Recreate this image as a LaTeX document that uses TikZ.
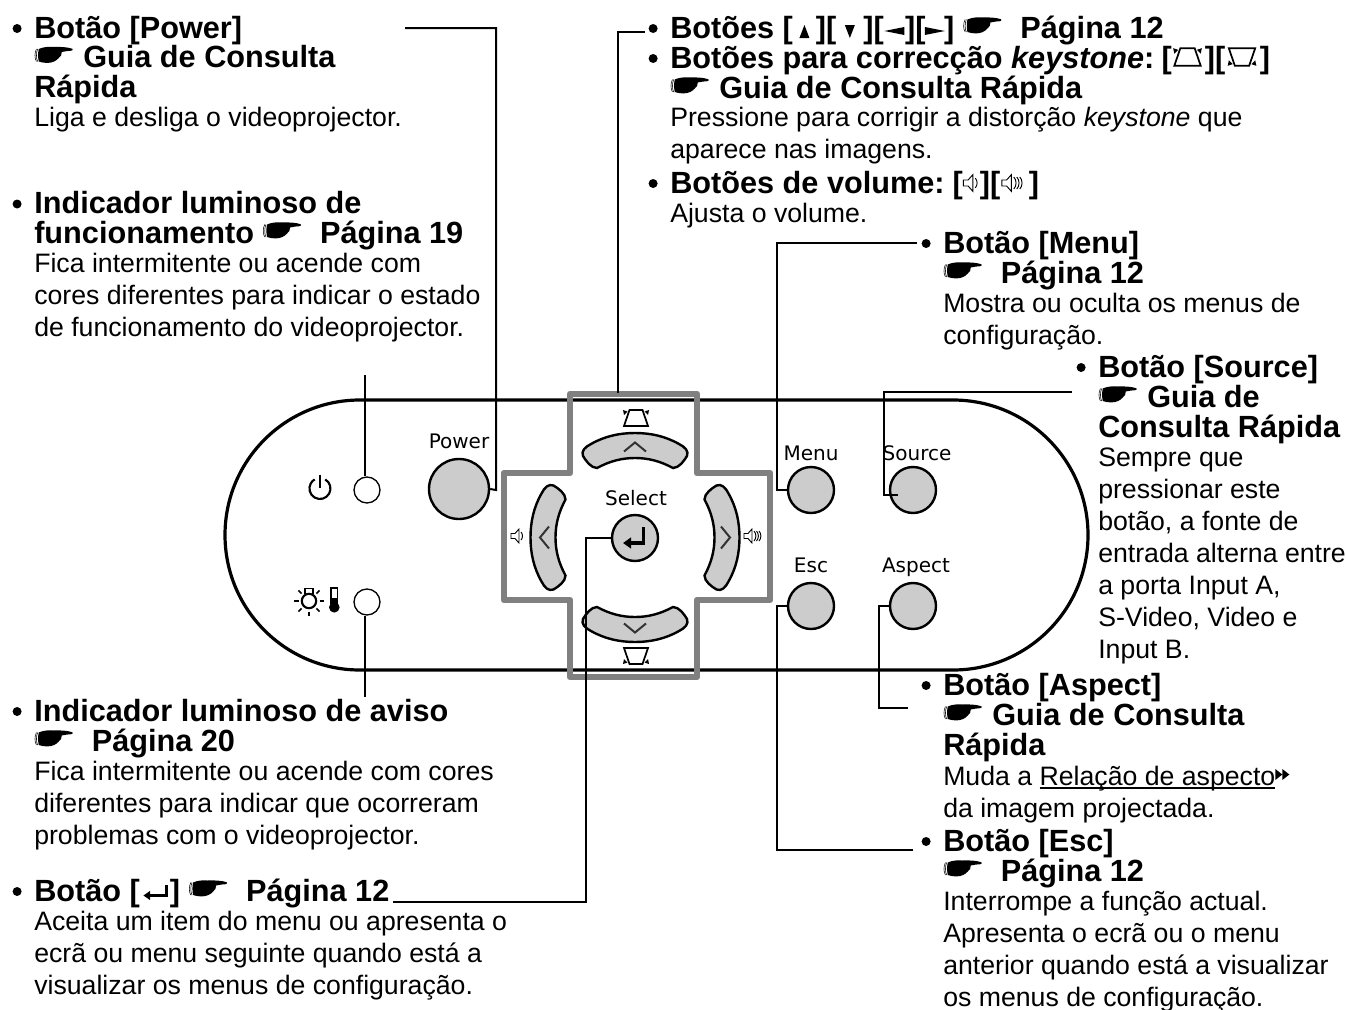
\documentclass[tikz,border=0pt]{standalone}
\usepackage{fontspec}
\setmainfont{Liberation Sans}
\newfontfamily\symfont{DejaVu Sans}
\usetikzlibrary{arrows.meta}
\definecolor{keycol}{gray}{0.8}
\definecolor{crosscol}{gray}{0.5}
\newcommand{\inl}[1]{\tikz[baseline=0pt, x=0.75pt, y=0.75pt]{#1}}
\newcommand{\bul}{\makebox[0pt][r]{\inl{\fill (4.5,9.5) circle (4.5);}\hspace{9.5pt}}}
% Pointing hand, 40.5 px wide
\newcommand{\hand}{\inl{
  \path[use as bounding box] (0,0) rectangle (40.5,1);
  \draw[line width=0.4pt] (2.2,6) .. controls (0.2,9) and (0.2,15) .. (2.2,18.5);
  \draw[line width=0.4pt] (3.4,6) .. controls (1.8,9) and (1.8,15) .. (3.4,18.5);
  \fill (4.5,6) .. controls (3.6,10) and (3.6,15) .. (4.5,18.5) .. controls (9,20.5) and (14,21) .. (19,20.5)
    .. controls (26,20.8) and (33,20.5) .. (38,18.8) .. controls (39,18) and (38.5,17) .. (37,16.8)
    .. controls (33,16.6) and (30,16) .. (27.5,15.5) .. controls (27.8,13) and (26.5,11) .. (24.5,9.5)
    .. controls (22,6.5) and (18,4.6) .. (13,4.6) .. controls (10,4.6) and (7,5) .. (4.5,6) -- cycle;
}}
\newcommand{\triup}{\makebox[17.25pt]{\inl{\fill (0,0) -- (10,0) -- (5,13) -- cycle;}}}
\newcommand{\tridn}{\makebox[20.25pt]{\inl{\fill (0,13) -- (10,13) -- (5,0) -- cycle;}}}
\newcommand{\trilf}{\makebox[16pt]{\inl{\fill (20,3) -- (20,11) -- (0,7) -- cycle;}}}
\newcommand{\trirt}{\makebox[14pt]{\inl{\fill (0,3) -- (0,11) -- (20,7) -- cycle;}}}
\newcommand{\entglyph}{\makebox[22.5pt]{\inl{\draw[line width=1.7pt, -{Triangle[length=5pt, width=6.5pt]}] (25,16) -- (25,5.5) -- (2,5.5);}}}
\newcommand{\glossmark}{\inl{\fill (0,5) -- (0,16) -- (7,10.5) -- cycle; \fill (7,5) -- (7,16) -- (14,10.5) -- cycle;}}
\newcommand{\ulinetxt}[1]{\setbox0\hbox{#1}\rlap{\rule[-3pt]{\wd0}{1.2pt}}\box0}
\tikzset{
  headrow/.style={anchor=base west, inner sep=0pt, font=\fontsize{23}{23}\selectfont\bfseries},
  bodyrow/.style={anchor=base west, inner sep=0pt, font=\fontsize{20}{20}\selectfont},
  panellabel/.style={anchor=base, inner sep=0pt, font=\symfont\fontsize{15}{15}\selectfont},
  keybtn/.style={circle, draw, line width=1.8pt, fill=keycol, inner sep=0pt, minimum size=34.5pt},
  ledlamp/.style={circle, draw, line width=1pt, fill=white, inner sep=0pt, minimum size=19.5pt},
  lead/.style={line width=1.5pt},
  keyicon/.pic={
    \draw[line width=1.3pt, line join=miter] (-12,8) -- (-6.5,-8) -- (6.5,-8) -- (12,8) -- cycle;
    \foreach \s in {-1,1}
      \fill (\s*13,-8) -- (\s*8.5,-6.5) -- (\s*12,-3) -- cycle;
  },
  arrowkey/.pic={
    \draw[line width=1.8pt, fill=keycol] (-38,-69.5) .. controls (-44,-69.5) and (-49,-76.5) .. (-52,-81.5)
      .. controls (-54,-86.5) and (-50,-90.5) .. (-44,-93.5)
      .. controls (-30,-101.5) and (-15,-104.5) .. (0,-104.5)
      .. controls (15,-104.5) and (30,-101.5) .. (44,-93.5)
      .. controls (50,-90.5) and (54,-86.5) .. (52,-81.5)
      .. controls (49,-76.5) and (44,-69.5) .. (38,-69.5)
      .. controls (25,-76.5) and (13,-79.5) .. (0,-79.5)
      .. controls (-13,-79.5) and (-25,-76.5) .. (-38,-69.5) -- cycle;
    \draw[line width=1.5pt, draw=black!80] (-11,-86) -- (0,-95) -- (11,-86);
  },
  vollow/.pic={
    \draw[line width=.7pt] (-6,-2.5) -- (-2,-2.5) -- (2,-7) -- (2,7) -- (-2,2.5) -- (-6,2.5) -- cycle;
    \draw[line width=.7pt] (4,-4) .. controls (6,-2) and (6,2) .. (4,4);
  },
  volhigh/.pic={
    \draw[line width=.7pt] (-6,-2.5) -- (-2,-2.5) -- (2,-7) -- (2,7) -- (-2,2.5) -- (-6,2.5) -- cycle;
    \foreach \d in {0,2.5,5}
      \draw[line width=.7pt] (4+\d,-5) .. controls (6.5+\d,-2.5) and (6.5+\d,2.5) .. (4+\d,5);
  }
}

\begin{document}
\begin{tikzpicture}[x=0.75pt, y=-0.75pt]
\path[use as bounding box] (0,0) rectangle (1346,1010);

% Panel outline
\draw[line width=2.4pt] (360,400) -- (953,400) arc (-90:90:135) -- (360,670) arc (90:270:135) -- cycle;

% Cross round the arrow keys
\draw[crosscol, line width=5.2pt, line join=round] (570,394) -- (697,394) -- (697,473) -- (770,473)
  -- (770,600) -- (697,600) -- (697,677) -- (570,677) -- (570,600) -- (504,600) -- (504,473)
  -- (570,473) -- cycle;

% Arrow keys
\foreach \a in {0,90,180,270}
  \pic[rotate=\a] at (635,537.5) {arrowkey};
\pic at (636,418) {keyicon};
\pic[yscale=-1] at (636,656) {keyicon};
\pic at (517,536) {vollow};
\pic at (750,536) {volhigh};

% Buttons
\node[keybtn] (btnpower) at (459,489) [minimum size=45pt] {};
\node[keybtn] (btnselect) at (635,538) {};
\node[keybtn] (btnmenu) at (811,490) {};
\node[keybtn] (btnsource) at (913,490) {};
\node[keybtn] (btnesc) at (811,606) {};
\node[keybtn] (btnaspect) at (913,606) {};
\draw[line width=2.8pt, -{Triangle[length=6pt, width=8pt]}] (643.5,527) -- (643.5,543) -- (623,543);

% Lamps
\node[ledlamp] (ledpower) at (367,490) {};
\node[ledlamp] (ledwarn) at (367,602) {};

% Panel labels
\node[panellabel] (lblpower) at (459,448) {Power};
\node[panellabel] (lblselect) at (636,505) {Select};
\node[panellabel] (lblmenu) at (811,460) {Menu};
\node[panellabel] (lblsource) at (917,460) {Source};
\node[panellabel] (lblesc) at (811,572) {Esc};
\node[panellabel] (lblaspect) at (916,572) {Aspect};

% Power symbol
\draw[line width=1.6pt] (320,474.5) -- (320,488);
\draw[line width=1.6pt] (325.2,479.4) arc (-60:240:10.5);

% Lamp symbol
\draw[line width=1.6pt] (309,601) circle (7.2);
\draw[line width=1.1pt] (305,594) -- (305,588.5) -- (313,588.5) -- (313,594);
\foreach \a in {0,45,135,180,225,315,90}
  \draw[line width=1.1pt] (309,601) ++(\a:10.5) -- ++(\a:4.5);

% Thermometer
\draw[line width=.9pt] (331,604) -- (331,588) -- (337.5,588) -- (337.5,604);
\fill (331.5,598) rectangle (337,606);
\fill (334.3,607.3) circle (5.3);

% Leader ends
\coordinate (pw1) at (405,28);
\coordinate (pw2) at (496,490);
\coordinate (ind1) at (365,375);
\coordinate (warn1) at (365,697);
\coordinate (ent1) at (393,902);
\coordinate (ent2) at (586,538);
\coordinate (top1) at (645,31.5);
\coordinate (top2) at (618,393);
\coordinate (men1) at (917,243);
\coordinate (men2) at (777,490);
\coordinate (src1) at (1072,392);
\coordinate (src2) at (884,495);
\coordinate (src3) at (898,495);
\coordinate (asp1) at (908,708);
\coordinate (asp2) at (879,606);
\coordinate (esc1) at (913,850);
\coordinate (esc2) at (777,606);

% Leaders
\draw[lead] (pw1) -| (pw2) -- (btnpower.east);
\draw[lead] (ind1) -- (ind1 |- ledpower.north);
\draw[lead] (warn1) -- (warn1 |- ledwarn.south);
\draw[lead] (ent1) -| (ent2) -- (btnselect.west);
\draw[lead] (top1) -| (top2);
\draw[lead] (men1) -| (men2) -- (btnmenu.west);
\draw[lead] (src1) -| (src2) -- (src3);
\draw[lead] (asp1) -| (asp2) -- (btnaspect.west);
\draw[lead] (esc1) -| (esc2) -- (btnesc.west);

% Left column
\foreach \y/\t [count=\i] in {38/\bul Botão [Power], 67.5/\hand\ Guia de Consulta, 97/Rápida,
    213.5/\bul Indicador luminoso de, 243/funcionamento \hand\ \ Página 19,
    721/\bul Indicador luminoso de aviso, 751/\hand\ \ Página 20,
    901/\bul Botão [\entglyph] \hand\ \ Página 12}
  \node[headrow] (lefthead\i) at (34,\y) {\t};
\foreach \y/\t [count=\i] in {126/Liga e desliga o videoprojector.,
    272/Fica intermitente ou acende com, 304/cores diferentes para indicar o estado,
    336/de funcionamento do videoprojector.,
    780/Fica intermitente ou acende com cores, 812/diferentes para indicar que ocorreram,
    844/problemas com o videoprojector.,
    930/Aceita um item do menu ou apresenta o, 962/ecrã ou menu seguinte quando está a,
    994/visualizar os menus de configuração.}
  \node[bodyrow] (leftbody\i) at (34,\y) {\t};

% Top right column
\foreach \y/\t [count=\i] in {38/\bul Botões [\triup][\tridn][\trilf][\trirt] \hand\ \ Página 12,
    68/\bul Botões para correcção \textit{keystone}:\hspace{5.5pt}[\hspace{24.8pt}][\hspace{26pt}],
    98/\hand\ Guia de Consulta Rápida,
    193/\bul Botões de volume:\hspace{6pt}[\hspace{12.75pt}][\hspace{21.5pt}]}
  \node[headrow] (tophead\i) at (670,\y) {\t};
\foreach \y/\t [count=\i] in {126/Pressione para corrigir a distorção \textit{keystone} que,
    158/aparece nas imagens., 222/Ajusta o volume.}
  \node[bodyrow] (topbody\i) at (670,\y) {\t};
\pic[scale=1.1] at (1187.5,57) {keyicon};
\pic[scale=1.1, yscale=-1] at (1242,57) {keyicon};
\pic[scale=1.2] at (970.5,183) {vollow};
\pic[scale=1.2] at (1009,183) {volhigh};

% Menu, Aspect and Esc
\foreach \y/\t [count=\i] in {253/\bul Botão [Menu], 283/\hand\ \ Página 12,
    695/\bul Botão [Aspect], 725/\hand\ Guia de Consulta, 755/Rápida,
    851/\bul Botão [Esc], 881/\hand\ \ Página 12}
  \node[headrow] (midhead\i) at (943,\y) {\t};
\foreach \y/\t [count=\i] in {312/Mostra ou oculta os menus de, 344/configuração.,
    785/Muda a \ulinetxt{Relação de aspecto}\glossmark,
    817/da imagem projectada.,
    910/Interrompe a função actual., 942/Apresenta o ecrã ou o menu,
    974/anterior quando está a visualizar, 1006/os menus de configuração.}
  \node[bodyrow] (midbody\i) at (943,\y) {\t};

% Source
\foreach \y/\t [count=\i] in {377/\bul Botão [Source], 407/\hand\ Guia de, 437/Consulta Rápida}
  \node[headrow] (srchead\i) at (1098,\y) {\t};
\foreach \y/\t [count=\i] in {466/Sempre que, 498/pressionar este, 530/{botão, a fonte de},
    562/entrada alterna entre, 594/{a porta Input A,}, 626/{S-Video, Video e}, 658/Input B.}
  \node[bodyrow] (srcbody\i) at (1098,\y) {\t};

\end{tikzpicture}
\end{document}
